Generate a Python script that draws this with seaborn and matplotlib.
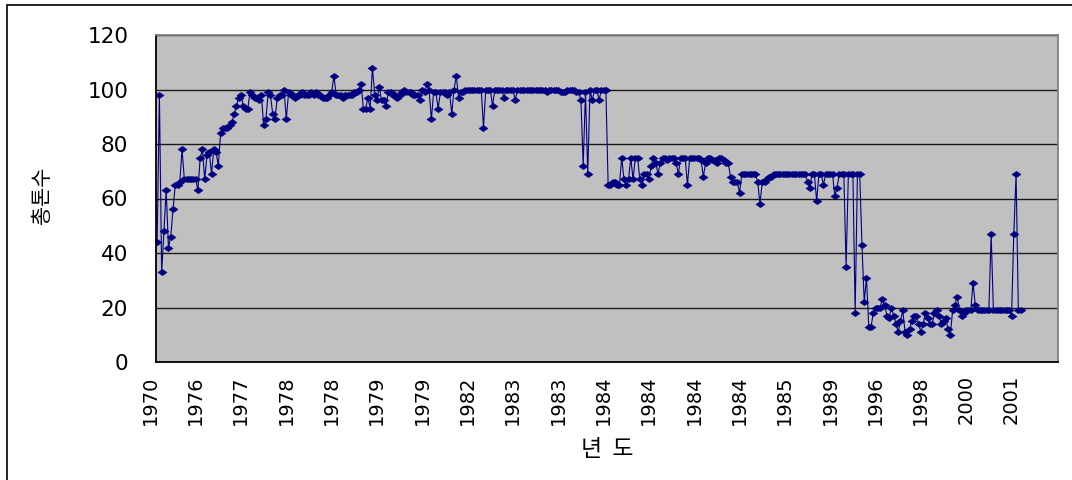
import numpy as np
import pandas as pd
import matplotlib
matplotlib.use("Agg")
import matplotlib.pyplot as plt
import matplotlib.transforms as mtransforms
from matplotlib.path import Path
from matplotlib.patches import Rectangle
import seaborn as sns

# 총톤수 per record, in record order
tonnage = [
    44, 98, 33, 48, 63, 42, 46, 56, 65, 65,
    66, 78, 67, 67, 67, 67, 67, 67, 63, 75,
    78, 67, 76, 77, 69, 78, 77, 72, 84, 86,
    86, 86, 87, 88, 91, 94, 97, 98, 94, 93,
    93, 99, 98, 97, 97, 96, 98, 87, 89, 99,
    98, 91, 89, 97, 98, 98, 100, 89, 99, 98,
    98, 97, 98, 98, 99, 98, 98, 98, 99, 98,
    99, 98, 98, 97, 97, 97, 98, 99, 105, 98,
    98, 98, 97, 98, 98, 98, 98, 99, 99, 100,
    102, 93, 93, 97, 93, 108, 98, 96, 101, 96,
    96, 94, 99, 99, 98, 98, 97, 98, 99, 100,
    99, 99, 99, 98, 98, 98, 96, 100, 99, 102,
    100, 89, 99, 99, 93, 99, 99, 99, 98, 99,
    91, 100, 105, 97, 99, 99, 100, 100, 100, 100,
    100, 100, 100, 100, 86, 100, 100, 100, 94, 100,
    100, 100, 100, 97, 100, 100, 100, 100, 96, 100,
    100, 100, 100, 100, 100, 100, 100, 100, 100, 100,
    100, 100, 99, 100, 100, 100, 100, 100, 99, 99,
    99, 100, 100, 100, 100, 99, 99, 96, 72, 99,
    69, 100, 96, 100, 100, 96, 100, 100, 100, 65,
    65, 66, 66, 65, 65, 75, 67, 65, 67, 75,
    67, 75, 75, 67, 65, 69, 69, 67, 72, 75,
    73, 69, 73, 75, 75, 74, 75, 75, 75, 73,
    69, 75, 75, 75, 65, 75, 75, 75, 75, 75,
    74, 68, 73, 75, 75, 74, 74, 73, 75, 75,
    74, 73, 73, 68, 66, 66, 66, 62, 69, 69,
    69, 69, 69, 69, 69, 66, 58, 66, 66, 67,
    68, 68, 69, 69, 69, 69, 69, 69, 69, 69,
    69, 69, 69, 69, 69, 69, 69, 66, 64, 69,
    69, 59, 69, 69, 65, 69, 69, 69, 69, 61,
    64, 69, 69, 69, 35, 69, 69, 69, 18, 69,
    69, 43, 22, 31, 13, 13, 18, 20, 20, 20,
    23, 21, 17, 16, 20, 17, 14, 11, 15, 19,
    11, 10, 12, 15, 17, 17, 14, 11, 14, 18,
    16, 14, 14, 18, 19, 17, 14, 15, 16, 12,
    10, 19, 21, 24, 19, 17, 18, 19, 19, 19,
    29, 21, 19, 19, 19, 19, 19, 19, 47, 19,
    19, 19, 19, 19, 19, 19, 19, 17, 47, 69,
    19, 19,
]

# year shown under every 20th record
year_labels = ["1970", "1976", "1977", "1978", "1978", "1979", "1979",
               "1982", "1983", "1983", "1984", "1984", "1984", "1984",
               "1985", "1989", "1996", "1998", "2000", "2001"]
label_step = 20
n_slots = 398
y_ticks = [0, 20, 40, 60, 80, 100, 120]

df = pd.DataFrame({"record": np.arange(len(tonnage)), "tonnage": tonnage})

sns.set_theme(style="white")
plt.rcParams["font.family"] = ["DejaVu Sans", "Noto Sans CJK KR"]

W, H = 1072, 480
fig = plt.figure(figsize=(W / 100, H / 100), dpi=100)
fig.patch.set_facecolor("white")

# outer chart-area frame
fig.patches.append(Rectangle((7 / W, -0.05), 1.2, (H - 5) / H + 0.05,
                             transform=fig.transFigure, fill=False,
                             edgecolor="black", linewidth=1.2))

ax = fig.add_axes([156 / W, 1 - 362 / H, 902 / W, 327 / H])
ax.set_facecolor("#C0C0C0")

diamond = Path([(-1, 0), (0, 0.7), (1, 0), (0, -0.7), (-1, 0)],
               [Path.MOVETO, Path.LINETO, Path.LINETO, Path.LINETO, Path.CLOSEPOLY])

sns.lineplot(data=df, x="record", y="tonnage", ax=ax, color="#000080",
             linewidth=0.8, marker=diamond, markersize=6.5,
             markeredgecolor="#000080", markeredgewidth=0.4,
             markerfacecolor="#000080", estimator=None, sort=False)

ax.set_xlim(-0.5, n_slots - 0.5)
ax.set_ylim(y_ticks[0], y_ticks[-1])

# y axis
ax.set_yticks(y_ticks)
ax.set_yticklabels([str(v) for v in y_ticks])
ax.yaxis.grid(True, color="#1a1a1a", linewidth=1.0)
ax.xaxis.grid(False)
ax.set_axisbelow(True)
ax.tick_params(axis="y", direction="in", length=4, width=1, color="black",
               pad=20, labelsize=15.5, labelcolor="black")

# x axis: labels every 20 records, a tick between every record
major_pos = np.arange(0, label_step * len(year_labels), label_step)
ax.set_xticks(major_pos)
ax.set_xticklabels(year_labels, rotation=90)
ax.set_xticks(np.arange(-0.5, n_slots, 1.0), minor=True)
ax.tick_params(axis="x", which="major", length=0, pad=9.5, labelsize=14,
               labelcolor="black")
ax.tick_params(axis="x", which="minor", direction="in", length=5, width=0.8,
               color="#202020")
shift = mtransforms.ScaledTranslation(-7 / 100, 0, fig.dpi_scale_trans)
for lbl in ax.get_xticklabels():
    lbl.set_transform(lbl.get_transform() + shift)

for side in ["left", "bottom"]:
    ax.spines[side].set_color("black")
    ax.spines[side].set_linewidth(1.3)
for side in ["top", "right"]:
    ax.spines[side].set_color("#808080")
    ax.spines[side].set_linewidth(1.3)

ax.set_xlabel("년  도", fontsize=16.5, family=["Noto Sans CJK KR", "DejaVu Sans"],
              color="black")
ax.xaxis.set_label_coords(0.5, -(438 - 362) / 327)
ax.set_ylabel("총톤수", fontsize=15, family=["Noto Sans CJK KR", "DejaVu Sans"],
              color="black")
ax.yaxis.set_label_coords((53 - 156) / 902, (362 - 195) / 327)

fig.savefig("out.png", dpi=100)
